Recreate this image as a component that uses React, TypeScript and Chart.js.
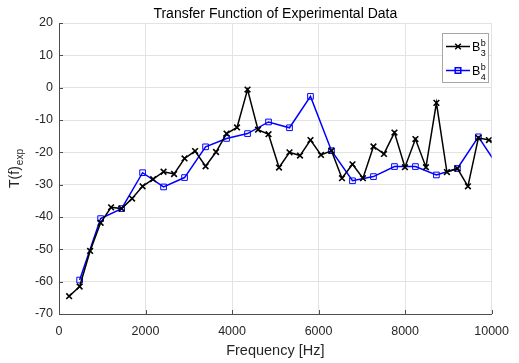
import React, { useEffect, useRef } from "react";
import { Chart, registerables } from "chart.js";

Chart.register(...registerables);

const TITLE = "Transfer Function of Experimental Data";
const X_LABEL = "Frequency [Hz]";

// Frequencies (Hz) of the B3 samples
const freqB3 = [
  234, 477, 719, 962, 1204, 1447, 1690, 1932, 2175, 2417, 2660, 2902, 3145, 3388,
  3630, 3873, 4115, 4358, 4600, 4843, 5086, 5328, 5571, 5813, 6056, 6298, 6541,
  6784, 7026, 7269, 7511, 7754, 7996, 8239, 8482, 8724, 8967, 9209, 9452, 9694,
  9937, 10180,
];
const valuesB3 = [
  -64.5, -61.5, -50.5, -41.8, -37.0, -37.4, -34.3, -30.5, -28.3, -26.0, -26.7,
  -21.9, -19.6, -24.3, -19.9, -14.2, -12.3, -0.6, -13.0, -14.4, -24.7, -20.0,
  -21.0, -16.2, -20.8, -19.5, -28.0, -23.7, -28.0, -18.2, -20.5, -13.9, -24.6,
  -15.9, -24.6, -4.7, -26.1, -25.0, -30.5, -15.5, -16.2, -17.5,
];

// Frequencies (Hz) of the B4 samples
const freqB4 = [
  477, 962, 1447, 1932, 2417, 2902, 3388, 3873, 4358, 4843, 5328, 5813, 6298,
  6784, 7269, 7754, 8239, 8724, 9209, 9694, 10180,
];
const valuesB4 = [
  -59.5, -40.5, -37.4, -26.3, -30.7, -27.8, -18.3, -15.7, -14.2, -10.6, -12.4,
  -2.7, -19.5, -28.8, -27.5, -24.4, -24.4, -27.0, -25.0, -15.2, -25.0,
];

const X_MIN = 0;
const X_MAX = 10000;
const X_STEP = 2000;
const Y_MIN = -70;
const Y_MAX = 20;
const Y_STEP = 10;

const FONT = "'Liberation Sans', Arial, Helvetica, sans-serif";
const AXIS_COLOR = "#4d4d4d";
const TEXT_COLOR = "#262626";
const GRID_COLOR = "#e3e3e3";

function drawMarker(ctx: CanvasRenderingContext2D, kind: string, x: number, y: number, color: string) {
  ctx.save();
  ctx.strokeStyle = color;
  ctx.lineWidth = 1.5;
  ctx.beginPath();
  if (kind === "x") {
    const d = 2.8;
    ctx.moveTo(x - d, y - d);
    ctx.lineTo(x + d, y + d);
    ctx.moveTo(x - d, y + d);
    ctx.lineTo(x + d, y - d);
  } else {
    const d = 2.8;
    ctx.rect(x - d, y - d, 2 * d, 2 * d);
  }
  ctx.stroke();
  ctx.restore();
}

const annotationsPlugin = {
  id: "matlabLike",
  afterDraw(chart: any) {
    const ctx: CanvasRenderingContext2D = chart.ctx;
    const area = chart.chartArea;
    const xs = chart.scales.x;
    const ys = chart.scales.y;
    ctx.save();

    // inward tick marks
    ctx.strokeStyle = AXIS_COLOR;
    ctx.lineWidth = 1;
    ctx.beginPath();
    xs.ticks.forEach((t: any) => {
      const px = Math.round(xs.getPixelForValue(t.value)) + 0.5;
      ctx.moveTo(px, area.bottom);
      ctx.lineTo(px, area.bottom - 4);
    });
    ys.ticks.forEach((t: any) => {
      const py = Math.round(ys.getPixelForValue(t.value)) + 0.5;
      ctx.moveTo(area.left, py);
      ctx.lineTo(area.left + 4, py);
    });
    ctx.stroke();

    // title
    ctx.fillStyle = "#000";
    ctx.font = `14px ${FONT}`;
    ctx.textAlign = "center";
    ctx.textBaseline = "alphabetic";
    ctx.fillText(TITLE, (area.left + area.right) / 2, 18);

    // x label
    ctx.fillStyle = TEXT_COLOR;
    ctx.font = `14.5px ${FONT}`;
    ctx.fillText(X_LABEL, (area.left + area.right) / 2, 355);

    // y label T(f)_exp
    ctx.save();
    ctx.font = `14px ${FONT}`;
    const w1 = ctx.measureText("T(f)").width;
    ctx.font = `10px ${FONT}`;
    const w2 = ctx.measureText("exp").width;
    const total = w1 + 1 + w2;
    const cy = (area.top + area.bottom) / 2;
    ctx.translate(19, cy + total / 2);
    ctx.rotate(-Math.PI / 2);
    ctx.textAlign = "left";
    ctx.font = `14px ${FONT}`;
    ctx.fillText("T(f)", 0, 0);
    ctx.font = `10px ${FONT}`;
    ctx.fillText("exp", w1 + 1, 4);
    ctx.restore();

    // legend
    const bx = 442.5, by = 33.5, bw = 46, bh = 49;
    ctx.fillStyle = "#fff";
    ctx.fillRect(bx, by, bw, bh);
    ctx.strokeStyle = "#a6a6a6";
    ctx.lineWidth = 1;
    ctx.strokeRect(bx, by, bw, bh);
    const entries = [
      { color: "#000000", marker: "x", sub: "3", y: 46.5 },
      { color: "#0000ff", marker: "s", sub: "4", y: 70.5 },
    ];
    entries.forEach((e) => {
      ctx.strokeStyle = e.color;
      ctx.lineWidth = 1.5;
      ctx.beginPath();
      ctx.moveTo(446, e.y);
      ctx.lineTo(470, e.y);
      ctx.stroke();
      drawMarker(ctx, e.marker, 458, e.y, e.color);
      ctx.fillStyle = "#000";
      ctx.textAlign = "left";
      ctx.font = `12.5px ${FONT}`;
      ctx.fillText("B", 472, e.y + 4.5);
      const wb = ctx.measureText("B").width;
      ctx.font = `9px ${FONT}`;
      ctx.fillText("b", 472 + wb + 0.5, e.y - 0.5);
      ctx.fillText(e.sub, 472 + wb + 0.5, e.y + 9.5);
    });

    ctx.restore();
  },
};

export default function App() {
  const canvasRef = useRef<HTMLCanvasElement | null>(null);

  useEffect(() => {
    document.body.style.margin = "0";
    const canvas = canvasRef.current;
    if (!canvas) return;

    const dsB3 = freqB3.map((f, i) => ({ x: f, y: valuesB3[i] }));
    const dsB4 = freqB4.map((f, i) => ({ x: f, y: valuesB4[i] }));

    const chart = new Chart(canvas, {
      type: "line",
      data: {
        datasets: [
          {
            label: "B3",
            data: dsB3,
            borderColor: "#000000",
            backgroundColor: "rgba(0,0,0,0)",
            borderWidth: 1.5,
            pointStyle: "crossRot",
            pointRadius: 4,
            pointBorderWidth: 1.6,
            pointBorderColor: "#000000",
            tension: 0,
          },
          {
            label: "B4",
            data: dsB4,
            borderColor: "#0000ff",
            backgroundColor: "rgba(0,0,0,0)",
            borderWidth: 1.5,
            pointStyle: "rect",
            pointRadius: 4,
            pointBorderWidth: 1,
            pointBorderColor: "#0000ff",
            pointBackgroundColor: "rgba(0,0,0,0)",
            tension: 0,
          },
        ],
      },
      options: {
        responsive: false,
        animation: false,
        layout: { padding: { top: 23, right: 20, left: 0, bottom: 0 } },
        plugins: {
          legend: { display: false },
          title: { display: false },
          tooltip: { enabled: false },
        },
        scales: {
          x: {
            type: "linear",
            min: X_MIN,
            max: X_MAX,
            ticks: {
              stepSize: X_STEP,
              color: TEXT_COLOR,
              font: { family: FONT, size: 12.5 },
              padding: 10,
              maxRotation: 0,
              callback: (v: any) => String(v),
            },
            grid: { color: GRID_COLOR, drawTicks: false, lineWidth: 1 },
            border: { display: true, color: AXIS_COLOR, width: 1 },
            afterFit: (s: any) => {
              s.height = 49;
            },
          },
          y: {
            type: "linear",
            min: Y_MIN,
            max: Y_MAX,
            ticks: {
              stepSize: Y_STEP,
              color: TEXT_COLOR,
              font: { family: FONT, size: 12.5 },
              padding: 6,
            },
            grid: { color: GRID_COLOR, drawTicks: false, lineWidth: 1 },
            border: { display: true, color: AXIS_COLOR, width: 1 },
            afterFit: (s: any) => {
              s.width = 59;
            },
          },
        },
      },
      plugins: [annotationsPlugin],
    });

    return () => chart.destroy();
  }, []);

  return (
    <div style={{ width: 519, height: 363 }}>
      <canvas ref={canvasRef} width={519} height={363} style={{ display: "block" }} />
    </div>
  );
}
